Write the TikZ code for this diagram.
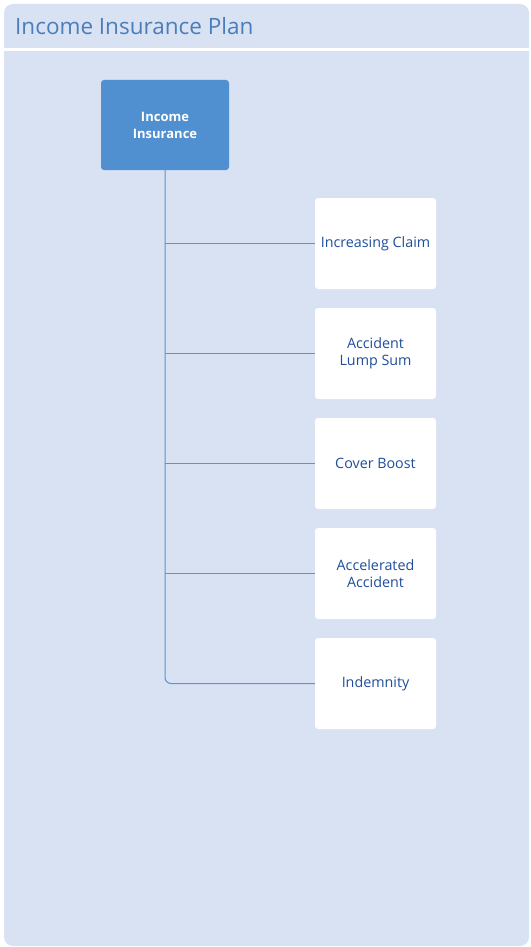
\documentclass[tikz,border=0pt]{standalone}
\usepackage{fontspec}
\setmainfont{Open Sans}
\definecolor{panel}{HTML}{D9E2F3}
\definecolor{titleblue}{HTML}{4A7EBB}
\definecolor{rootfill}{HTML}{5090D0}
\definecolor{linkblue}{HTML}{5B93D6}
\definecolor{childtext}{HTML}{1F4E9C}
\begin{document}
\begin{tikzpicture}[x=1pt,y=-1pt,
  rootbox/.style={fill=rootfill, rounded corners=3pt, minimum width=128pt, minimum height=90pt,
    text=white, font=\fontsize{13}{17}\selectfont\bfseries, align=center, inner sep=0pt},
  childbox/.style={fill=white, rounded corners=3pt, minimum width=121pt, minimum height=91pt,
    text=childtext, font=\fontsize{14.3}{17}\selectfont, align=center, inner sep=0pt},
  link/.style={draw=linkblue, line width=1pt}]
  \useasboundingbox (0,0) rectangle (530,947);
  \fill[white] (0,0) rectangle (530,947);
  % panel with header band and separator
  \fill[panel, rounded corners=9pt] (4,4) rectangle (529,946);
  \fill[white] (4,48.5) rectangle (529,51);
  \node[anchor=base west, text=titleblue, font=\fontsize{22.5}{26}\selectfont, inner sep=0pt] (title) at (15,35) {Income Insurance Plan};
  % root and children
  \node[rootbox] (root) at (165,125) {Income\\Insurance};
  \node[childbox] (c1) at (375.5,243.5) {Increasing Claim};
  \node[childbox] (c2) at (375.5,353.5) {Accident\\Lump Sum};
  \node[childbox] (c3) at (375.5,463.5) {Cover Boost};
  \node[childbox] (c4) at (375.5,573.5) {Accelerated\\Accident};
  \node[childbox] (c5) at (375.5,683.5) {Indemnity};
  % connectors
  \draw[link, rounded corners=6pt] (root.south) -- (root.south |- c5.west) -- (c5.west);
  \foreach \c in {c1,c2,c3,c4}
    \draw[link] (root.south |- \c.west) -- (\c.west);
\end{tikzpicture}
\end{document}
